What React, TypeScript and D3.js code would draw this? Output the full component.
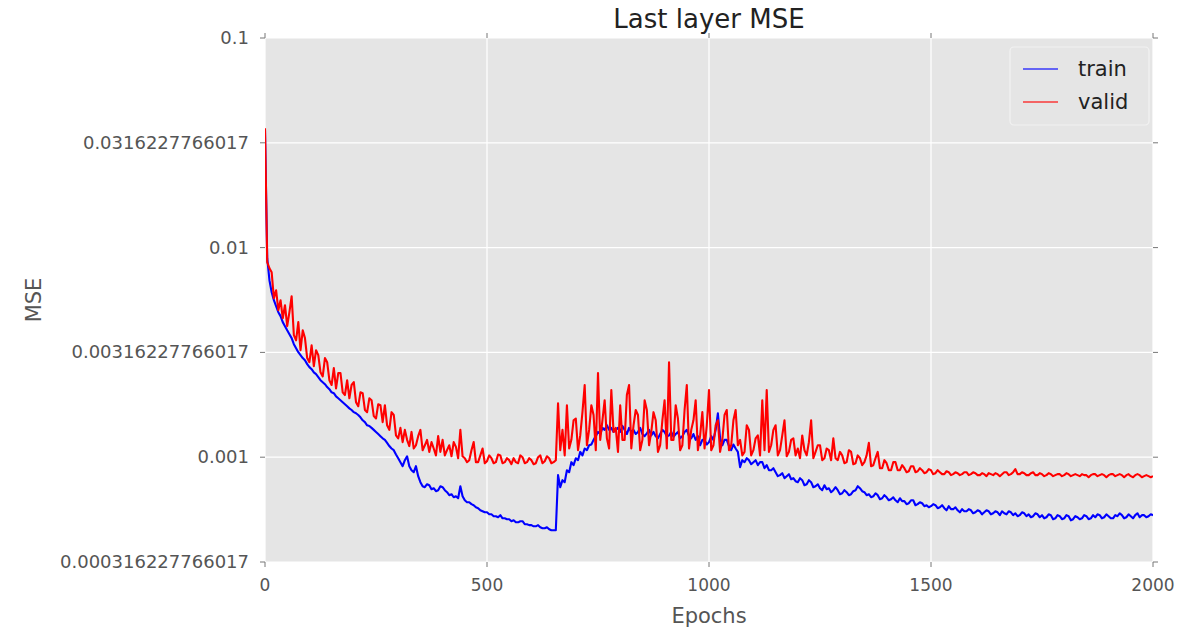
import React from 'react';
import * as d3 from 'd3';

// MSE, one value every 5 epochs (0..2000), 20 values per row = 100 epochs
const trainMSE = [
  0.0363, 0.0089, 0.00699, 0.00612, 0.00561, 0.00525, 0.00492, 0.00471, 0.00441, 0.00422, 0.00403, 0.00386, 0.0037, 0.00346, 0.00331, 0.00317, 0.00307, 0.00297, 0.0029, 0.00278,
  0.00269, 0.00263, 0.00254, 0.00249, 0.00241, 0.00233, 0.00228, 0.00223, 0.00216, 0.00211, 0.00204, 0.00202, 0.00195, 0.00191, 0.00187, 0.00183, 0.00179, 0.00175, 0.00171, 0.00168,
  0.00164, 0.00162, 0.00159, 0.00155, 0.0015, 0.00147, 0.00142, 0.00141, 0.00138, 0.00135, 0.00132, 0.00129, 0.00126, 0.00123, 0.00121, 0.00117, 0.00113, 0.0011, 0.00108, 0.00103,
  0.000989, 0.000947, 0.000906, 0.000968, 0.00101, 0.000906, 0.000867, 0.000848, 0.000906, 0.000812, 0.00076, 0.000727, 0.000719, 0.000743, 0.000735, 0.000703, 0.000711, 0.000688, 0.000696, 0.000727,
  0.000719, 0.000696, 0.000681, 0.000659, 0.000666, 0.000644, 0.000651, 0.000637, 0.000727, 0.000651, 0.000623, 0.00061, 0.00061, 0.000597, 0.00059, 0.000577, 0.000571, 0.000558, 0.000552, 0.000546,
  0.000546, 0.000534, 0.000534, 0.000523, 0.000523, 0.000517, 0.000529, 0.000511, 0.000511, 0.000506, 0.000506, 0.000495, 0.0005, 0.000489, 0.000489, 0.000495, 0.000495, 0.000479, 0.000479, 0.000474,
  0.000474, 0.000468, 0.000468, 0.000474, 0.000463, 0.000458, 0.000458, 0.000463, 0.000453, 0.000448, 0.000448, 0.000448, 0.000821, 0.000719, 0.000777, 0.00076, 0.000867, 0.000848, 0.000947, 0.000916,
  0.000989, 0.000968, 0.00106, 0.00102, 0.0011, 0.00108, 0.00114, 0.00115, 0.00121, 0.00126, 0.00132, 0.00129, 0.00138, 0.00135, 0.00142, 0.00135, 0.00138, 0.00132, 0.00135, 0.00138,
  0.00132, 0.00141, 0.00135, 0.00129, 0.00138, 0.00132, 0.00135, 0.00129, 0.00132, 0.00138, 0.00129, 0.00126, 0.0013, 0.00135, 0.00127, 0.00132, 0.00126, 0.00123, 0.00129, 0.00135,
  0.00132, 0.00126, 0.00127, 0.00132, 0.00125, 0.00129, 0.00132, 0.00123, 0.00126, 0.00132, 0.00135, 0.00126, 0.00123, 0.00129, 0.00121, 0.00126, 0.00114, 0.00121, 0.00121, 0.00115,
  0.00118, 0.00126, 0.00121, 0.00135, 0.00162, 0.00123, 0.00114, 0.00121, 0.00121, 0.00113, 0.00108, 0.00115, 0.0011, 0.00106, 0.000896, 0.000968, 0.000947, 0.000989, 0.000968, 0.000926,
  0.000947, 0.000968, 0.000916, 0.000947, 0.000947, 0.000886, 0.000916, 0.000867, 0.000867, 0.000886, 0.000848, 0.000812, 0.000821, 0.000839, 0.000794, 0.000812, 0.00083, 0.000785, 0.000794, 0.000768,
  0.00076, 0.000794, 0.000777, 0.000735, 0.000743, 0.000777, 0.00076, 0.000719, 0.000727, 0.000743, 0.000711, 0.000696, 0.000735, 0.000703, 0.000711, 0.000681, 0.000696, 0.000719, 0.000696, 0.000666,
  0.000673, 0.000696, 0.000681, 0.000659, 0.000666, 0.000688, 0.000696, 0.000727, 0.000711, 0.000688, 0.000681, 0.000659, 0.000666, 0.000644, 0.000651, 0.000673, 0.000659, 0.00063, 0.000637, 0.000659,
  0.000644, 0.000623, 0.00063, 0.000644, 0.000623, 0.00061, 0.000637, 0.000617, 0.000617, 0.000597, 0.000603, 0.000623, 0.000623, 0.00059, 0.000597, 0.00061, 0.000603, 0.000584, 0.00059, 0.000577,
  0.000584, 0.000597, 0.00059, 0.000571, 0.000577, 0.00059, 0.000571, 0.000558, 0.000584, 0.000565, 0.000565, 0.000577, 0.000558, 0.000546, 0.000565, 0.000552, 0.000552, 0.000565, 0.000558, 0.00054,
  0.000546, 0.000558, 0.000552, 0.000534, 0.000546, 0.000558, 0.000552, 0.000534, 0.00054, 0.000552, 0.000546, 0.000529, 0.000552, 0.00054, 0.000534, 0.000552, 0.000546, 0.000529, 0.00054, 0.000523,
  0.000529, 0.000546, 0.00054, 0.000523, 0.000534, 0.000517, 0.000523, 0.00054, 0.000534, 0.000517, 0.000529, 0.000511, 0.000517, 0.000534, 0.000529, 0.000506, 0.000511, 0.000529, 0.000523, 0.000506,
  0.000511, 0.000529, 0.000523, 0.0005, 0.000506, 0.000523, 0.000517, 0.000506, 0.000511, 0.000529, 0.000523, 0.000506, 0.000511, 0.000529, 0.000517, 0.000534, 0.000529, 0.000511, 0.000517, 0.000534,
  0.000523, 0.000511, 0.000511, 0.000529, 0.000523, 0.00054, 0.000529, 0.000511, 0.000517, 0.000534, 0.000523, 0.000511, 0.000529, 0.00054, 0.000517, 0.000529, 0.000529, 0.000517, 0.000523, 0.000534,
  0.000529,
];

const validMSE = [
  0.0371, 0.00852, 0.00797, 0.00763, 0.00573, 0.00626, 0.00503, 0.00561, 0.0046, 0.00531, 0.00422, 0.00492, 0.00586, 0.00382, 0.00361, 0.00441, 0.00324, 0.00403, 0.0037, 0.00297,
  0.00284, 0.00342, 0.00272, 0.00324, 0.00307, 0.00254, 0.00243, 0.00297, 0.00284, 0.00233, 0.00221, 0.00266, 0.00213, 0.00252, 0.00252, 0.00204, 0.00198, 0.00233, 0.00191, 0.00221,
  0.00228, 0.00183, 0.00175, 0.00204, 0.00202, 0.00168, 0.00164, 0.00191, 0.00187, 0.00157, 0.00153, 0.00179, 0.00177, 0.00147, 0.00177, 0.00142, 0.00135, 0.00164, 0.00159, 0.00127,
  0.00123, 0.00138, 0.00118, 0.00135, 0.00121, 0.00113, 0.00132, 0.0011, 0.00114, 0.00126, 0.00135, 0.00108, 0.00114, 0.00121, 0.00106, 0.00118, 0.0011, 0.00102, 0.00126, 0.00106,
  0.00121, 0.00102, 0.00108, 0.00114, 0.00101, 0.00118, 0.00112, 0.000989, 0.00135, 0.00101, 0.000989, 0.000947, 0.000968, 0.00108, 0.00118, 0.000947, 0.000947, 0.00102, 0.0011, 0.000936,
  0.000957, 0.00102, 0.000989, 0.000936, 0.000947, 0.00103, 0.00102, 0.000936, 0.000947, 0.000989, 0.000968, 0.000926, 0.000989, 0.000947, 0.000936, 0.00102, 0.001, 0.000936, 0.000947, 0.000989,
  0.000968, 0.000926, 0.000936, 0.001, 0.00102, 0.000936, 0.000957, 0.00101, 0.000989, 0.000936, 0.000947, 0.000968, 0.00181, 0.00108, 0.00135, 0.00102, 0.00177, 0.0011, 0.00121, 0.0015,
  0.00153, 0.00108, 0.00127, 0.00164, 0.00221, 0.00114, 0.00135, 0.00177, 0.00159, 0.00108, 0.00252, 0.00121, 0.0015, 0.00187, 0.00123, 0.0011, 0.00209, 0.00132, 0.00138, 0.00106,
  0.00177, 0.00121, 0.00121, 0.00198, 0.00221, 0.0011, 0.00142, 0.00168, 0.00159, 0.00108, 0.00121, 0.00187, 0.00168, 0.00114, 0.00132, 0.00164, 0.0015, 0.00106, 0.00114, 0.0015,
  0.00187, 0.0011, 0.00284, 0.00121, 0.00121, 0.00177, 0.00153, 0.00108, 0.00114, 0.00168, 0.00221, 0.0011, 0.00135, 0.0015, 0.00187, 0.00108, 0.00127, 0.00164, 0.0011, 0.00142,
  0.00209, 0.00108, 0.00114, 0.00142, 0.0015, 0.00106, 0.00121, 0.00159, 0.00168, 0.00108, 0.00114, 0.0015, 0.00168, 0.00114, 0.00121, 0.00102, 0.00106, 0.00142, 0.00135, 0.00102,
  0.00108, 0.00123, 0.00127, 0.00102, 0.00187, 0.00108, 0.00209, 0.00106, 0.00114, 0.00135, 0.00142, 0.00102, 0.00108, 0.00127, 0.0015, 0.00101, 0.00106, 0.00121, 0.00123, 0.00102,
  0.0011, 0.000989, 0.00127, 0.00108, 0.00102, 0.00118, 0.0015, 0.000989, 0.00106, 0.00114, 0.00114, 0.000968, 0.000989, 0.0011, 0.00108, 0.000968, 0.00123, 0.000989, 0.000968, 0.00106,
  0.00102, 0.000936, 0.000947, 0.00108, 0.00106, 0.000926, 0.000936, 0.00102, 0.000989, 0.000916, 0.000947, 0.00102, 0.00117, 0.000906, 0.000916, 0.000989, 0.00106, 0.000886, 0.000886, 0.000968,
  0.000936, 0.000867, 0.000867, 0.000947, 0.000947, 0.000867, 0.000867, 0.000916, 0.000886, 0.000848, 0.000857, 0.000906, 0.000906, 0.000848, 0.000857, 0.000886, 0.000867, 0.000839, 0.000848, 0.000877,
  0.000867, 0.00083, 0.000839, 0.000867, 0.000848, 0.00083, 0.00083, 0.000857, 0.000848, 0.000821, 0.00083, 0.000848, 0.000839, 0.000821, 0.00083, 0.000848, 0.000848, 0.000821, 0.00083, 0.000848,
  0.000839, 0.000821, 0.000821, 0.000839, 0.00083, 0.000812, 0.000839, 0.00083, 0.000821, 0.000839, 0.00083, 0.000812, 0.00083, 0.000848, 0.000848, 0.000821, 0.00083, 0.000848, 0.000877, 0.00083,
  0.00083, 0.000848, 0.000839, 0.000821, 0.000821, 0.000839, 0.000848, 0.000821, 0.000821, 0.000839, 0.00083, 0.000812, 0.000821, 0.000839, 0.00083, 0.000812, 0.000821, 0.00083, 0.00083, 0.000812,
  0.000821, 0.000839, 0.00083, 0.000812, 0.000821, 0.00083, 0.000821, 0.000812, 0.00083, 0.000821, 0.000821, 0.000803, 0.000821, 0.00083, 0.00083, 0.000812, 0.000821, 0.00083, 0.000821, 0.000803,
  0.000821, 0.00083, 0.00083, 0.000812, 0.000821, 0.00083, 0.000821, 0.000803, 0.000821, 0.00083, 0.000812, 0.000803, 0.000821, 0.00083, 0.000821, 0.000803, 0.000812, 0.000821, 0.000812, 0.000803,
  0.000812,
];

const epochs = trainMSE.map((_, i) => i * 5);

const xTicks = [0, 500, 1000, 1500, 2000];
const yTicks = [0.1, 0.0316227766017, 0.01, 0.00316227766017, 0.001, 0.000316227766017];
const yTickLabels = ['0.1', '0.0316227766017', '0.01', '0.00316227766017', '0.001', '0.000316227766017'];

const seriesNames = ['train', 'valid'];
const seriesColors = ['#0000ff', '#ff0000'];

const W = 1179;
const H = 628;
const margin = { top: 38, right: 26, bottom: 66, left: 265 };
const FONT = 'DejaVu Sans, sans-serif';

export default function App() {
  const x = d3.scaleLinear().domain([0, 2000]).range([margin.left, W - margin.right]);
  const y = d3.scaleLog().domain([0.000316227766017, 0.1]).range([H - margin.bottom, margin.top]);

  const line = d3
    .line<number>()
    .x((_, i) => x(epochs[i]))
    .y((d) => y(d));

  const x0 = margin.left;
  const x1 = W - margin.right;
  const y0 = margin.top;
  const y1 = H - margin.bottom;

  return (
    <svg width={W} height={H} style={{ position: 'absolute', left: 0, top: 0, background: '#fff' }}>
      <defs>
        <clipPath id="plot">
          <rect x={x0} y={y0} width={x1 - x0} height={y1 - y0} />
        </clipPath>
      </defs>

      <rect x={x0} y={y0} width={x1 - x0} height={y1 - y0} fill="#e5e5e5" />

      {/* grid */}
      {xTicks.map((t) => (
        <line key={'gx' + t} x1={x(t)} x2={x(t)} y1={y0} y2={y1} stroke="#fff" strokeWidth={1.2} />
      ))}
      {yTicks.map((t) => (
        <line key={'gy' + t} x1={x0} x2={x1} y1={y(t)} y2={y(t)} stroke="#fff" strokeWidth={1.2} />
      ))}

      {/* ticks */}
      {xTicks.map((t) => (
        <g key={'tx' + t} stroke="#777" strokeWidth={1}>
          <line x1={x(t)} x2={x(t)} y1={y1} y2={y1 + 5} />
          <line x1={x(t)} x2={x(t)} y1={y0} y2={y0 - 5} />
        </g>
      ))}
      {yTicks.map((t) => (
        <g key={'ty' + t} stroke="#777" strokeWidth={1}>
          <line x1={x0 - 5} x2={x0} y1={y(t)} y2={y(t)} />
          <line x1={x1} x2={x1 + 5} y1={y(t)} y2={y(t)} />
        </g>
      ))}

      {/* tick labels */}
      {xTicks.map((t) => (
        <text key={'lx' + t} x={x(t)} y={y1 + 29} textAnchor="middle" fontFamily={FONT} fontSize={17} fill="#555">
          {t}
        </text>
      ))}
      {yTicks.map((t, i) => (
        <text key={'ly' + t} x={x0 - 16} y={y(t) + 6} textAnchor="end" fontFamily={FONT} fontSize={18} fill="#555">
          {yTickLabels[i]}
        </text>
      ))}

      {/* series */}
      <g clipPath="url(#plot)" fill="none" strokeWidth={2.1} strokeLinejoin="round">
        <path d={line(trainMSE) || ''} stroke={seriesColors[0]} />
        <path d={line(validMSE) || ''} stroke={seriesColors[1]} />
      </g>

      {/* labels */}
      <text x={(x0 + x1) / 2} y={28} textAnchor="middle" fontFamily={FONT} fontSize={26} fill="#222">
        Last layer MSE
      </text>
      <text x={(x0 + x1) / 2} y={623} textAnchor="middle" fontFamily={FONT} fontSize={21} fill="#555">
        Epochs
      </text>
      <text
        transform={`translate(41,${(y0 + y1) / 2}) rotate(-90)`}
        textAnchor="middle"
        fontFamily={FONT}
        fontSize={21}
        fill="#555"
      >
        MSE
      </text>

      {/* legend */}
      <rect x={1010} y={47} width={139} height={78} rx={4} fill="#e5e5e5" stroke="#f2f2f2" strokeWidth={1.2} />
      {seriesNames.map((n, i) => (
        <g key={n}>
          <line x1={1023} x2={1058} y1={69 + i * 33} y2={69 + i * 33} stroke={seriesColors[i]} strokeWidth={1.3} opacity={0.75} />
          <text x={1078} y={76 + i * 33} fontFamily={FONT} fontSize={21} fill="#222">
            {n}
          </text>
        </g>
      ))}
    </svg>
  );
}
